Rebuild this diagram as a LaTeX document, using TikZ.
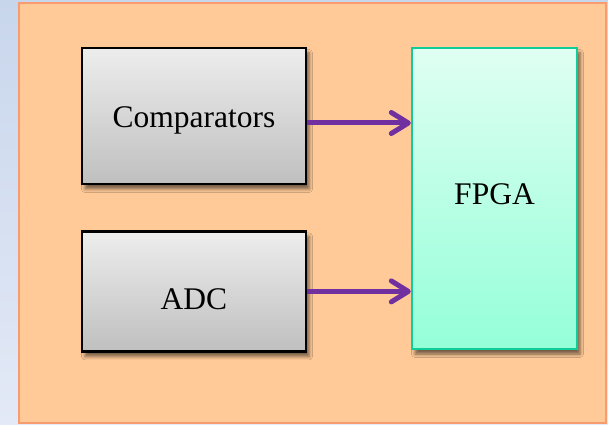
\documentclass[tikz,border=0pt]{standalone}
\usepackage{fontspec}
\setmainfont{Liberation Serif}
\usepackage{xcolor}
\usepackage{tikz}
\usetikzlibrary{positioning, arrows.meta, shadows.blur}

\definecolor{bgtop}{HTML}{C8D6EC}
\definecolor{bgbot}{HTML}{E3E9F6}
\definecolor{panelfill}{HTML}{FFCA98}
\definecolor{paneldraw}{HTML}{F89C70}
\definecolor{fpgadraw}{HTML}{10CC98}
\definecolor{fpgatop}{HTML}{DFFFF2}
\definecolor{fpgabot}{HTML}{94FFD8}
\definecolor{arrowcol}{HTML}{7030A0}

\begin{document}
\begin{tikzpicture}[
  x=1pt, y=1pt,
  block/.style={
    rectangle, draw, line width=2.4pt,
    minimum width=224pt, minimum height=136pt,
    top color=black!7, bottom color=black!25,
    blur shadow={shadow xshift=3pt, shadow yshift=-5pt,
                 shadow blur radius=3.5pt, shadow opacity=55},
    font=\fontsize{31.5}{36}\selectfont,
    text depth=0pt, text height=24pt
  },
  flow/.style={
    draw=arrowcol, line width=5pt,
    -{Straight Barb[length=17pt, width=21pt, round]}
  }
]
% sfondo e pannello
\fill[top color=bgtop, bottom color=bgbot] (0,0) rectangle (608,424);
\draw[fill=panelfill, draw=paneldraw, line width=2pt] (19,1) rectangle (606,421);

\node[block] (cmp) at (194,308) {Comparators};
\node[block, minimum height=120pt, text height=37pt, below=45pt of cmp] (adc) {ADC};
\node[block, draw=fpgadraw, minimum width=165pt, minimum height=301pt,
      top color=fpgatop, bottom color=fpgabot, text height=21pt, text depth=10pt]
      (fpga) at (494.5,225.5) {FPGA};

\draw[flow] ([yshift=-7pt]cmp.east) -- ([yshift=-7pt]cmp.east -| fpga.west);
\draw[flow] (adc.east) -- (adc.east -| fpga.west);
\end{tikzpicture}
\end{document}
